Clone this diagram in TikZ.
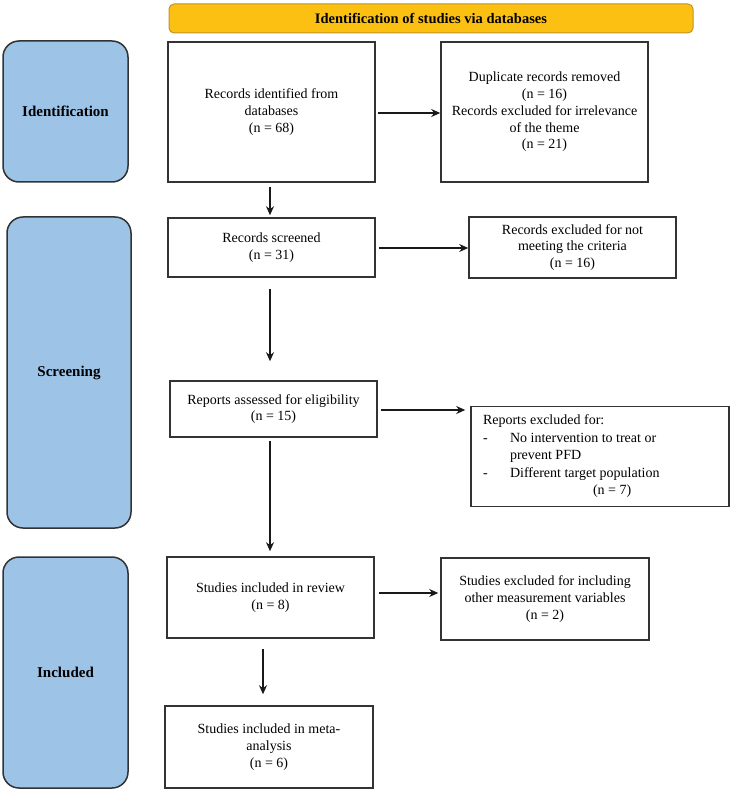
\documentclass[tikz,border=0pt]{standalone}
\usepackage{fontspec}
\setmainfont{Liberation Serif}
\usetikzlibrary{arrows.meta,calc}
\definecolor{hdrfill}{HTML}{FCC012}
\definecolor{hdrline}{HTML}{C0932A}
\definecolor{sidefill}{HTML}{9DC3E6}
\definecolor{sideline}{HTML}{333333}
\definecolor{boxline}{HTML}{333333}
\begin{document}
\begin{tikzpicture}[x=1pt,y=-1pt,
  every node/.style={font=\fontsize{14}{16.7}\selectfont, text=black},
  mainbox/.style={draw=boxline, line width=1.6pt, align=center, inner sep=0pt},
  sidebox/.style={draw=sideline, line width=1.5pt, fill=sidefill, rounded corners=16pt, inner sep=0pt, font=\fontsize{15}{17}\selectfont\bfseries},
  arr/.style={-{Stealth[length=9pt,width=8pt]}, line width=1.6pt, draw=black!90}
]
\useasboundingbox (0,0) rectangle (734,794);
% header
\node[draw=hdrline, line width=1pt, fill=hdrfill, rounded corners=5pt, minimum width=524pt, minimum height=29pt, inner sep=0pt, font=\fontsize{14.5}{16}\selectfont\bfseries] (hdr) at (431,18.5) {Identification of studies via databases};
% side boxes
\node[sidebox, minimum width=125pt, minimum height=141pt] (sid) at (65.5,111.5) {Identification};
\node[sidebox, minimum width=124pt, minimum height=311pt] (sscr) at (69,372.5) {Screening};
\node[sidebox, minimum width=125pt, minimum height=231pt] (sinc) at (65.5,672.5) {Included};
% main column
\node[mainbox, minimum width=207pt, minimum height=140pt] (rec) at (271.5,112) {Records identified from\\databases\\(n = 68)};
\node[mainbox, minimum width=207pt, minimum height=59pt] (scr) at (271.5,247.5) {Records screened\\(n = 31)};
\node[mainbox, minimum width=207pt, minimum height=56pt] (rep) at (273.5,409) {Reports assessed for eligibility\\(n = 15)};
\node[mainbox, minimum width=207pt, minimum height=81pt] (rev) at (270.5,597.5) {Studies included in review\\(n = 8)};
\node[mainbox, minimum width=208pt, minimum height=82pt] (meta) at (269,747) {Studies included in meta-\\analysis\\(n = 6)};
% exclusion column
\node[mainbox, minimum width=207pt, minimum height=140pt] (dup) at (544.5,112) {Duplicate records removed\\(n = 16)\\Records excluded for irrelevance\\of the theme\\(n = 21)};
\node[mainbox, minimum width=207pt, minimum height=61pt] (crit) at (572.5,247.5) {Records excluded for not\\meeting the criteria\\(n = 16)};
\node[mainbox, minimum width=258pt, minimum height=100pt, align=flush left, text width=234pt, font=\fontsize{14}{17.5}\selectfont] (repx) at (600,456.5) {Reports excluded for:\\\makebox[27pt][l]{-}No intervention to treat or\\\hspace*{27pt}prevent PFD\\\makebox[27pt][l]{-}Different target population\\\hspace*{110pt}(n = 7)};
\node[mainbox, minimum width=208pt, minimum height=82pt] (revx) at (545,599) {Studies excluded for including\\other measurement variables\\(n = 2)};
% connectors
\draw[arr] ($(rec.east)+(2,1)$) -- (dup.west |- {$(rec.east)+(0,1)$});
\draw[arr] ($(rec.south)+(-1.5,4)$) -- ($(scr.north)+(-1.5,-2)$);
\draw[arr] ($(scr.east)+(3,0.5)$) -- ($(crit.west |- scr.east)+(0,0.5)$);
\draw[arr] ($(scr.south)+(-1.5,11)$) -- ($(rep.north)+(-3.5,-19)$);
\draw[arr] ($(rep.east)+(3,1)$) -- ($(repx.west |- rep.east)+(-5,1)$);
\draw[arr] ($(rep.south)+(-3.5,3)$) -- ($(rev.north)+(-0.5,-5)$);
\draw[arr] ($(rev.east)+(4,-4.5)$) -- ($(revx.west |- rev.east)+(-2,-4.5)$);
\draw[arr] ($(rev.south)+(-7.5,10)$) -- ($(meta.north)+(-6,-11)$);
\end{tikzpicture}
\end{document}
